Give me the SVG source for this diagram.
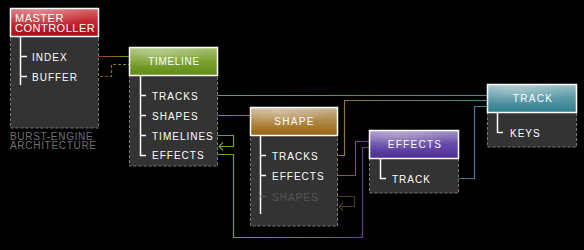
<svg xmlns="http://www.w3.org/2000/svg" width="584" height="250" viewBox="0 0 584 250">
  <defs>
    <linearGradient id="gRed" x1="0" y1="0" x2="0" y2="1">
      <stop offset="0" stop-color="#d86a70"/>
      <stop offset="0.45" stop-color="#c42830"/>
      <stop offset="1" stop-color="#a80c14"/>
    </linearGradient>
    <linearGradient id="gGreen" x1="0" y1="0" x2="0" y2="1">
      <stop offset="0" stop-color="#a8c078"/>
      <stop offset="0.45" stop-color="#7ea432"/>
      <stop offset="1" stop-color="#5f8a16"/>
    </linearGradient>
    <linearGradient id="gBrown" x1="0" y1="0" x2="0" y2="1">
      <stop offset="0" stop-color="#cbb89a"/>
      <stop offset="0.45" stop-color="#b08a48"/>
      <stop offset="1" stop-color="#98640e"/>
    </linearGradient>
    <linearGradient id="gPurple" x1="0" y1="0" x2="0" y2="1">
      <stop offset="0" stop-color="#a698c8"/>
      <stop offset="0.45" stop-color="#6a4eaa"/>
      <stop offset="1" stop-color="#4e2e96"/>
    </linearGradient>
    <linearGradient id="gTeal" x1="0" y1="0" x2="0" y2="1">
      <stop offset="0" stop-color="#9cc0c6"/>
      <stop offset="0.45" stop-color="#5e9ca8"/>
      <stop offset="1" stop-color="#2e7e8e"/>
    </linearGradient>
    <radialGradient id="gloss" cx="0.3" cy="0.15" r="0.6">
      <stop offset="0" stop-color="#ffffff" stop-opacity="0.25"/>
      <stop offset="1" stop-color="#ffffff" stop-opacity="0"/>
    </radialGradient>

    <!-- connector colour ramps -->
    <linearGradient id="cRedGreen" gradientUnits="userSpaceOnUse" x1="71" y1="0" x2="129" y2="0">
      <stop offset="0" stop-color="#c01818"/>
      <stop offset="0.5" stop-color="#a83a1c"/>
      <stop offset="1" stop-color="#7a9e2a"/>
    </linearGradient>
    <linearGradient id="cBuf" gradientUnits="userSpaceOnUse" x1="85" y1="0" x2="129" y2="0">
      <stop offset="0" stop-color="#c01818"/>
      <stop offset="0.55" stop-color="#a05a20"/>
      <stop offset="1" stop-color="#7a9e2a"/>
    </linearGradient>
    <linearGradient id="cGreenTeal" gradientUnits="userSpaceOnUse" x1="204" y1="0" x2="487" y2="0">
      <stop offset="0" stop-color="#7a9e2a"/>
      <stop offset="1" stop-color="#3a8a9a"/>
    </linearGradient>
    <linearGradient id="cGreenBrown" gradientUnits="userSpaceOnUse" x1="206" y1="0" x2="250" y2="0">
      <stop offset="0" stop-color="#7a9e2a"/>
      <stop offset="1" stop-color="#a07028"/>
    </linearGradient>
    <linearGradient id="cBrownTeal" gradientUnits="userSpaceOnUse" x1="320" y1="0" x2="487" y2="0">
      <stop offset="0" stop-color="#a07028"/>
      <stop offset="1" stop-color="#3a8a9a"/>
    </linearGradient>
    <linearGradient id="cGreenPurple" gradientUnits="userSpaceOnUse" x1="213" y1="0" x2="369" y2="0">
      <stop offset="0" stop-color="#7a9e2a"/>
      <stop offset="0.5" stop-color="#7a8a30"/>
      <stop offset="1" stop-color="#5a3aa0"/>
    </linearGradient>
    <linearGradient id="cBrownPurple" gradientUnits="userSpaceOnUse" x1="332" y1="0" x2="369" y2="0">
      <stop offset="0" stop-color="#a07028"/>
      <stop offset="1" stop-color="#5a3aa0"/>
    </linearGradient>
    <linearGradient id="cPurpleTeal" gradientUnits="userSpaceOnUse" x1="437" y1="0" x2="487" y2="0">
      <stop offset="0" stop-color="#5a3aa0"/>
      <stop offset="1" stop-color="#3a8a9a"/>
    </linearGradient>

    <style>
      .hdr { stroke: #ffffff; stroke-width: 1.5; }
      .body { fill: #333333; stroke: #777777; stroke-width: 1; stroke-dasharray: 3 2; }
      .tree { fill: none; stroke: #ffffff; stroke-width: 1.5; }
      .dim { stroke: #555555; }
      .title { font-family: "Liberation Sans", Arial, sans-serif; font-size: 10px; letter-spacing: 1.3px; fill: #ffffff; text-anchor: middle; }
      .item { font-family: "Liberation Sans", Arial, sans-serif; font-size: 10px; letter-spacing: 1px; fill: #ffffff; }
      .item.off { fill: #555555; }
      .caption { font-family: "Liberation Sans", Arial, sans-serif; font-size: 10px; letter-spacing: 0.7px; fill: #707070; }
      .wire { fill: none; stroke-width: 1.2; }
    </style>
  </defs>

  <rect width="584" height="250" fill="#000000"/>

  <!-- connectors -->
  <g id="connectors" class="wire">
    <path d="M71 56.5 H129" stroke="url(#cRedGreen)"/>
    <path d="M85 76.5 H111.5 V64.5 H129" stroke="url(#cBuf)" stroke-dasharray="3 2"/>
    <path d="M204 95.5 H487" stroke="url(#cGreenTeal)"/>
    <path d="M206 115.5 H250" stroke="url(#cGreenBrown)"/>
    <path d="M214 135.5 H233.5 V146.5 H219 M223 142.5 L219 146.5 L223 150.5" stroke="#7a9e2a"/>
    <path d="M213 154.5 H233.5 V237.5 H362.5 V147.5 H369" stroke="url(#cGreenPurple)"/>
    <path d="M322 155.5 H344.5 V100.5 H487" stroke="url(#cBrownTeal)"/>
    <path d="M332 175.5 H355.5 V141.5 H369" stroke="url(#cBrownPurple)"/>
    <path d="M323 196.5 H354.5 V206.5 H339 M343 202.5 L339 206.5 L343 210.5" stroke="#4a3a22"/>
    <path d="M437 178.5 H474.5 V106.5 H487" stroke="url(#cPurpleTeal)"/>
  </g>

  <!-- master controller -->
  <g id="master">
    <rect class="body" x="10.5" y="36" width="88" height="92"/>
    <rect class="hdr" x="10.5" y="8.5" width="88" height="28" fill="url(#gRed)"/>
    <rect x="11" y="9" width="87" height="27" fill="url(#gloss)"/>
    <text class="item" x="15" y="21.5" style="font-size:11px;letter-spacing:0.5px">MASTER</text>
    <text class="item" x="15" y="32" style="font-size:11px;letter-spacing:0.5px">CONTROLLER</text>
    <path class="tree" d="M20.5 37 V85 M20.5 56.5 H27 M20.5 76.5 H27"/>
    <text class="item" x="32" y="60.5">INDEX</text>
    <text class="item" x="32" y="80.5">BUFFER</text>
    <text class="caption" x="10" y="139.5">BURST-ENGINE</text>
    <text class="caption" x="10" y="149">ARCHITECTURE</text>
  </g>

  <!-- timeline -->
  <g id="timeline">
    <rect class="body" x="129.5" y="75" width="88" height="91"/>
    <rect class="hdr" x="129.5" y="47.5" width="88" height="28" fill="url(#gGreen)"/>
    <rect x="130" y="48" width="87" height="27" fill="url(#gloss)"/>
    <text class="title" x="174" y="65" style="letter-spacing:0.7px">TIMELINE</text>
    <path class="tree" d="M140.5 76 V155.5 H146 M140.5 95.5 H146 M140.5 115.5 H146 M140.5 135.5 H146"/>
    <text class="item" x="152" y="99.5">TRACKS</text>
    <text class="item" x="152" y="119.5">SHAPES</text>
    <text class="item" x="152" y="139.5">TIMELINES</text>
    <text class="item" x="152" y="159">EFFECTS</text>
  </g>

  <!-- shape -->
  <g id="shape">
    <rect class="body" x="250.5" y="135" width="87" height="91"/>
    <rect class="hdr" x="250.5" y="107.5" width="87" height="28" fill="url(#gBrown)"/>
    <rect x="251" y="108" width="86" height="27" fill="url(#gloss)"/>
    <text class="title" x="294.5" y="125">SHAPE</text>
    <path class="tree" d="M260.5 136 V214 M260.5 155.5 H266 M260.5 175.5 H266"/>
    <path class="tree dim" d="M260.5 196.5 H266"/>
    <text class="item" x="272" y="159.5">TRACKS</text>
    <text class="item" x="272" y="179.5">EFFECTS</text>
    <text class="item off" x="272" y="200.5">SHAPES</text>
  </g>

  <!-- effects -->
  <g id="effects">
    <rect class="body" x="369.5" y="158" width="89" height="35"/>
    <rect class="hdr" x="369.5" y="130.5" width="89" height="28" fill="url(#gPurple)"/>
    <rect x="370" y="131" width="88" height="27" fill="url(#gloss)"/>
    <text class="title" x="415" y="148">EFFECTS</text>
    <path class="tree" d="M380.5 159 V178.5 H386"/>
    <text class="item" x="392" y="182.5">TRACK</text>
  </g>

  <!-- track -->
  <g id="track">
    <rect class="body" x="487.5" y="112" width="89" height="35"/>
    <rect class="hdr" x="487.5" y="84.5" width="89" height="28" fill="url(#gTeal)"/>
    <rect x="488" y="85" width="88" height="27" fill="url(#gloss)"/>
    <text class="title" x="533" y="102">TRACK</text>
    <path class="tree" d="M497.5 113 V132.5 H503"/>
    <text class="item" x="510" y="136.5">KEYS</text>
  </g>
</svg>
